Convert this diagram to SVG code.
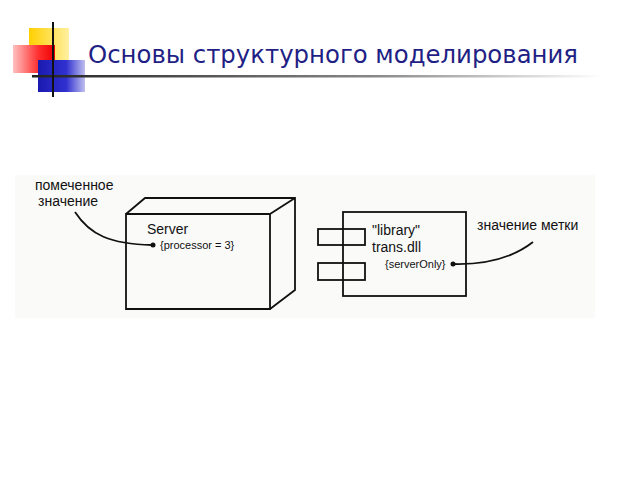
<svg xmlns="http://www.w3.org/2000/svg" width="640" height="480" viewBox="0 0 640 480">
<defs>
<linearGradient id="rule" x1="0" y1="0" x2="1" y2="0">
<stop offset="0" stop-color="#222"/>
<stop offset="0.6" stop-color="#888"/>
<stop offset="1" stop-color="#fff"/>
</linearGradient>
<linearGradient id="red" x1="0" y1="0" x2="1" y2="0">
<stop offset="0" stop-color="#ffc0c0"/>
<stop offset="0.6" stop-color="#ff3030"/>
<stop offset="1" stop-color="#ee0000"/>
</linearGradient>
<linearGradient id="yel" x1="0" y1="0" x2="1" y2="0">
<stop offset="0" stop-color="#ffd000"/>
<stop offset="1" stop-color="#fff0a0"/>
</linearGradient>
<linearGradient id="blu" x1="0" y1="0" x2="1" y2="0">
<stop offset="0" stop-color="#1a1ab0"/>
<stop offset="0.6" stop-color="#3030d0"/>
<stop offset="1" stop-color="#c0c0f0"/>
</linearGradient>
</defs>
<style>
.ln{fill:none;stroke:#111;stroke-width:1.8}
.t{font-family:"Liberation Sans",Arial,sans-serif;fill:#111}
.title{font-family:"DejaVu Sans",Verdana,sans-serif;fill:#1f1f85;font-size:25px}
</style>
<rect width="640" height="480" fill="#fff"/>
<g id="decor">
<rect x="29" y="28" width="40" height="32" fill="url(#yel)"/>
<rect x="13" y="45" width="42" height="28" fill="url(#red)"/>
<rect x="38" y="60" width="47" height="32" fill="url(#blu)"/>
<rect x="32" y="75" width="570" height="2.5" fill="url(#rule)"/>
<rect x="52" y="22" width="2" height="75" fill="#111"/>
</g>
<text class="title" x="88" y="63" textLength="490" lengthAdjust="spacingAndGlyphs">Основы структурного моделирования</text>
<rect x="15" y="175" width="580" height="143" fill="#fafaf9"/>
<g id="server">
<path class="ln" d="M126,214 H270 V309 H126 Z M126,214 L145,198 H295 V290 L270,309 M270,214 L295,198"/>
<text class="t" x="147" y="234" font-size="14">Server</text>
<text class="t" x="160" y="249" font-size="11">{processor = 3}</text>
</g>
<g id="component">
<rect class="ln" x="343" y="212" width="123" height="84"/>
<rect class="ln" x="318" y="229" width="47" height="16" fill="#fafaf9"/>
<rect class="ln" x="318" y="263" width="47" height="17" fill="#fafaf9"/>
<text class="t" x="372" y="235" font-size="14">"library"</text>
<text class="t" x="372" y="252" font-size="14">trans.dll</text>
<text class="t" x="385" y="268" font-size="11">{serverOnly}</text>
</g>
<g id="label1">
<text class="t" x="35" y="190" font-size="14">помеченное</text>
<text class="t" x="38" y="206" font-size="14">значение</text>
</g>
<g id="label2">
<text class="t" x="477" y="230" font-size="14">значение метки</text>
</g>
<g id="connectors">
<path class="ln" d="M75,212 C90,235 110,244 152,245"/>
<circle cx="153" cy="245" r="2.5" fill="#111"/>
<path class="ln" d="M453,264 C490,265 515,256 533,242"/>
<circle cx="453" cy="264" r="2.5" fill="#111"/>
</g>
</svg>
